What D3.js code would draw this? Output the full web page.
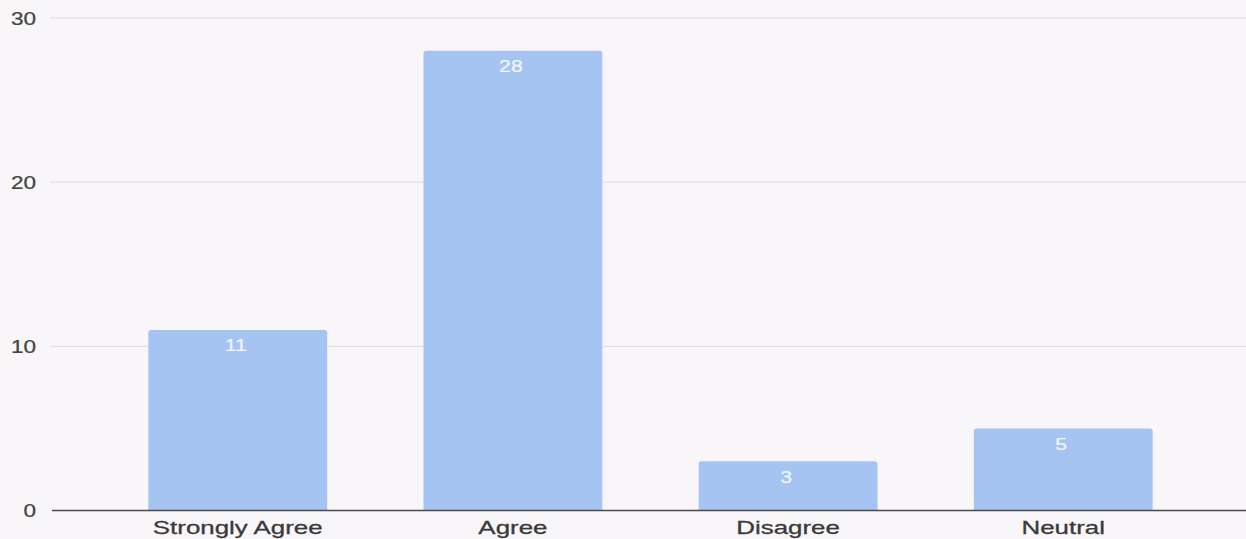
<!DOCTYPE html>
<html>
<head>
<meta charset="utf-8">
<script src="https://cdn.jsdelivr.net/npm/d3@7"></script>
<style>
  html, body { margin: 0; padding: 0; background: #f8f6f8; }
  svg { display: block; }
  text { font-family: "Liberation Sans", Arial, sans-serif; }
</style>
</head>
<body>
<svg id="chart" width="1246" height="539"></svg>
<script>
const categories = ["Strongly Agree", "Agree", "Disagree", "Neutral"];
const values = [11, 28, 3, 5];
const yTicks = [0, 10, 20, 30];

const W = 1246, H = 539;
const svg = d3.select("#chart");
svg.append("rect").attr("width", W).attr("height", H).attr("fill", "#f8f6f8");

const x = d3.scaleBand().domain(categories).range([52, 1249]).padding(0.35);
const y = d3.scaleLinear().domain([0, 30]).range([510.5, 18]);

// gridlines
svg.append("g").selectAll("line")
  .data(yTicks.filter(d => d > 0))
  .join("line")
  .attr("x1", 50).attr("x2", W)
  .attr("y1", d => y(d)).attr("y2", d => y(d))
  .attr("stroke", "#dedcde").attr("stroke-width", 1);

// y tick labels
svg.append("g").selectAll("text")
  .data(yTicks)
  .join("text")
  .attr("transform", d => `translate(36,${y(d) + 6.5}) scale(1.22,1)`)
  .attr("text-anchor", "end")
  .attr("font-size", 18.5)
  .attr("fill", "#444")
  .attr("stroke", "#444").attr("stroke-width", 0.25)
  .text(d => d);

// bars with rounded top corners
const r = 3;
function barPath(d, i) {
  const x0 = x(categories[i]), w = x.bandwidth();
  const yt = y(d), yb = y(0);
  return `M${x0},${yb} L${x0},${yt + r} Q${x0},${yt} ${x0 + r},${yt} L${x0 + w - r},${yt} Q${x0 + w},${yt} ${x0 + w},${yt + r} L${x0 + w},${yb} Z`;
}
svg.append("g").selectAll("path")
  .data(values)
  .join("path")
  .attr("d", barPath)
  .attr("fill", "#a6c4f2");

// value labels
svg.append("g").selectAll("text")
  .data(values)
  .join("text")
  .attr("transform", (d, i) => `translate(${x(categories[i]) + x.bandwidth() / 2 - 2},${y(d) + 21.5}) scale(1.25,1)`)
  .attr("text-anchor", "middle")
  .attr("font-size", 17)
  .attr("fill", "#f3f6fc")
  .attr("stroke", "#f3f6fc").attr("stroke-width", 0.2)
  .text(d => d);

// baseline
svg.append("line")
  .attr("x1", 52).attr("x2", W)
  .attr("y1", y(0)).attr("y2", y(0))
  .attr("stroke", "#4a4a4a").attr("stroke-width", 1.3);

// category labels
svg.append("g").selectAll("text")
  .data(categories)
  .join("text")
  .attr("transform", d => `translate(${x(d) + x.bandwidth() / 2},534) scale(1.4,1)`)
  .attr("text-anchor", "middle")
  .attr("font-size", 18.5)
  .attr("fill", "#3a3a3a")
  .attr("stroke", "#3a3a3a").attr("stroke-width", 0.3)
  .text(d => d);
</script>
</body>
</html>
